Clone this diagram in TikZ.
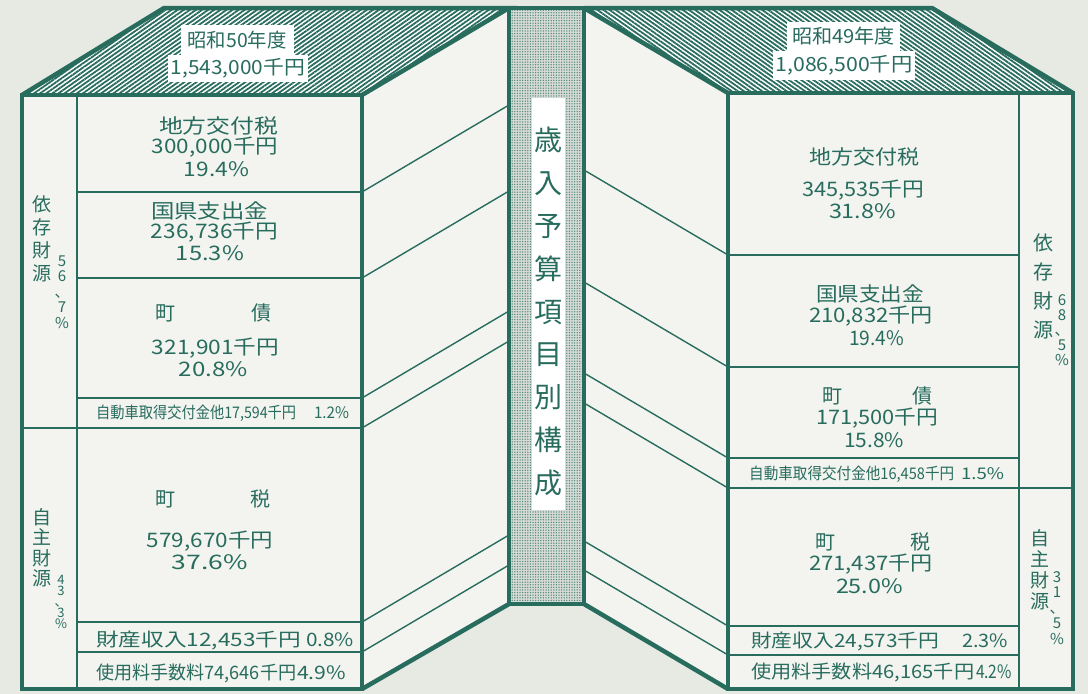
\documentclass[tikz,border=0pt]{standalone}
\usepackage{fontspec}
\usepackage{graphicx}
\usetikzlibrary{patterns.meta}
\newfontfamily\jp{Noto Sans CJK JP}
\definecolor{tl}{RGB}{40,108,94}
\definecolor{bgc}{RGB}{231,233,227}
\definecolor{facec}{RGB}{243,244,240}
\definecolor{pillarc}{RGB}{215,219,214}
\newcommand{\fsz}[2]{\fontsize{#1}{#2}\selectfont}
\newcommand{\fitw}[2]{\resizebox{#1pt}{\height}{#2}}
\begin{document}
\begin{tikzpicture}[x=1pt,y=-1pt]
\tikzset{
  heavy/.style={draw=tl, line width=4.5pt},
  divl/.style={draw=tl, line width=1.7pt},
  sidel/.style={draw=tl, line width=1.4pt},
  tx/.style={text=tl, inner sep=0pt, font=\jp},
  mainf/.style={tx, font=\jp\fsz{20}{21}},
  rowf/.style={tx, font=\jp\fsz{18.5}{19}},
  smallf/.style={tx, font=\jp\fsz{16}{16}},
  wbox/.style={fill=white, inner sep=0pt, text=tl},
  hatchL/.style={pattern={Lines[angle=35,distance=3.5pt,line width=1.8pt]}, pattern color=tl},
  hatchR/.style={pattern={Lines[angle=-35,distance=3.5pt,line width=1.8pt]}, pattern color=tl},
  dotsP/.style={pattern={Dots[distance=2.6pt,radius=0.75pt]}, pattern color=tl!80},
}
% background and bounding box
\fill[bgc] (0,0) rectangle (1088,694);
\useasboundingbox (0,0) rectangle (1088,694);

% faces
\fill[facec] (22,95) rectangle (362,689);
\fill[facec] (362,95) -- (509,8) -- (509,604) -- (362,689) -- cycle;
\fill[facec] (728,93) rectangle (1073,689);
\fill[facec] (584,8) -- (728,93) -- (728,689) -- (584,604) -- cycle;

% top faces (hatched)
\fill[white] (22,95) -- (164,8) -- (509,8) -- (362,95) -- cycle;
\fill[hatchL] (22,95) -- (164,8) -- (509,8) -- (362,95) -- cycle;
\fill[white] (584,8) -- (932,8) -- (1073,93) -- (728,93) -- cycle;
\fill[hatchR] (584,8) -- (932,8) -- (1073,93) -- (728,93) -- cycle;

% pillar
\fill[pillarc] (509,8) rectangle (584,604);
\fill[dotsP] (509,8) rectangle (584,604);

% left box dividers
\foreach \y in {192,278,398,622,652} \draw[divl] (77,\y) -- (362,\y);
\draw[divl] (22,428) -- (362,428);
\draw[divl] (77,95) -- (77,689);
\foreach \y in {192,278,398,428,622,652} \draw[sidel] (362,\y) -- (509,\y-87);

% right box dividers
\foreach \y in {255,367,458,626,655} \draw[divl] (728,\y) -- (1019,\y);
\draw[divl] (728,488) -- (1073,488);
\draw[divl] (1019,93) -- (1019,689);
\foreach \y in {255,367,458,488,626,655} \draw[sidel] (584,\y-85) -- (728,\y);

% heavy outlines
\draw[heavy] (22,95) rectangle (362,689);
\draw[heavy] (22,95) -- (164,8) -- (509,8) -- (362,95);
\draw[heavy] (362,689) -- (509,604);
\draw[heavy] (509,8) rectangle (584,604);
\draw[heavy] (728,93) rectangle (1073,689);
\draw[heavy] (584,8) -- (932,8) -- (1073,93);
\draw[heavy] (584,8) -- (728,93);
\draw[heavy] (584,604) -- (728,689);

% year labels
\node[wbox, minimum width=113pt, minimum height=30pt, font=\jp\fsz{19.5}{20}] (y50a) at (237,40) {\fitw{99}{昭和50年度}};
\node[wbox, minimum width=140pt, minimum height=27pt, font=\jp\fsz{19.5}{20}] (y50b) at (238,68.5) {\fitw{134}{1,543,000千円}};
\node[wbox, minimum width=113pt, minimum height=29pt, font=\jp\fsz{19.5}{20}] (y49a) at (843.5,36.5) {\fitw{103}{昭和49年度}};
\node[wbox, minimum width=142pt, minimum height=29pt, font=\jp\fsz{19.5}{20}] (y49b) at (844,65.5) {\fitw{137}{1,086,500千円}};

% title
\node[wbox, minimum width=33pt, minimum height=412pt] (tbox) at (548.5,304) {};
\node[tx, align=center, font=\jp\fsz{28}{42.9}] (title) at (548.5,311.5) {歳\\入\\予\\算\\項\\目\\別\\構\\成};

% left vertical labels
\node[tx, align=center, font=\jp\fsz{19}{23}] (lA) at (42,238.5) {依\\存\\財\\源};
\node[tx, align=center, font=\jp\fsz{15}{15.5}] (lAp) at (62,292) {5\\6\\、\\7\\\%};
\node[tx, align=center, font=\jp\fsz{19}{20.5}] (lB) at (42,548) {自\\主\\財\\源};
\node[tx, align=center, font=\jp\fsz{13}{11}] (lBp) at (61,601.5) {4\\3\\、\\3\\\%};

% right vertical labels
\node[tx, align=center, font=\jp\fsz{20}{29}] (rA) at (1043,286.5) {依\\存\\財\\源};
\node[tx, align=center, font=\jp\fsz{15}{15}] (rAp) at (1062,330) {6\\8\\、\\5\\\%};
\node[tx, align=center, font=\jp\fsz{19}{21}] (rB) at (1040,570) {自\\主\\財\\源};
\node[tx, align=center, font=\jp\fsz{15}{15.5}] (rBp) at (1057,608) {3\\1\\、\\5\\\%};

% left cells
\node[mainf] (c1a) at (218.5,126) {\fitw{119}{地方交付税}};
\node[mainf] (c1b) at (215,147.5) {\fitw{126}{300,000千円}};
\node[mainf] (c1c) at (216.5,169) {\fitw{65}{19.4\%}};
\node[mainf] (c2a) at (209.5,211) {\fitw{117}{国県支出金}};
\node[mainf] (c2b) at (214.5,232) {\fitw{127}{236,736千円}};
\node[mainf] (c2c) at (210,253) {\fitw{68}{15.3\%}};
\node[mainf] (c3a) at (165,313) {町};
\node[mainf] (c3b) at (261.5,313) {債};
\node[mainf] (c3c) at (215.5,348) {\fitw{127}{321,901千円}};
\node[mainf] (c3d) at (213.5,369.5) {\fitw{69}{20.8\%}};
\node[smallf, anchor=west] (c4a) at (96,413) {\fitw{200}{自動車取得交付金他17,594千円}};
\node[smallf] (c4b) at (331.5,413) {\fitw{35}{1.2\%}};
\node[mainf] (c5a) at (165,499) {町};
\node[mainf] (c5b) at (260,499) {税};
\node[mainf] (c5c) at (210,541) {\fitw{126}{579,670千円}};
\node[mainf] (c5d) at (210,562.5) {\fitw{76}{37.6\%}};
\node[rowf, anchor=west] (c6a) at (96,640) {\fitw{205}{財産収入12,453千円}};
\node[rowf] (c6b) at (330,640) {\fitw{48}{0.8\%}};
\node[rowf, anchor=west] (c7a) at (96,673) {\fitw{200}{使用料手数料74,646千円}};
\node[rowf] (c7b) at (321.5,673) {\fitw{49}{4.9\%}};

% right cells
\node[mainf] (d1a) at (864,157) {\fitw{110}{地方交付税}};
\node[mainf] (d1b) at (863,190) {\fitw{122}{345,535千円}};
\node[mainf] (d1c) at (862.5,211.5) {\fitw{67}{31.8\%}};
\node[mainf] (d2a) at (870,294) {\fitw{108}{国県支出金}};
\node[mainf] (d2b) at (871,316) {\fitw{124}{210,832千円}};
\node[mainf] (d2c) at (876.5,338) {\fitw{55}{19.4\%}};
\node[mainf] (d3a) at (832,396) {町};
\node[mainf] (d3b) at (922.5,396) {債};
\node[mainf] (d3c) at (877,418) {\fitw{122}{171,500千円}};
\node[mainf] (d3d) at (874,440) {\fitw{60}{15.8\%}};
\node[smallf, anchor=west] (d4a) at (749,474) {\fitw{205}{自動車取得交付金他16,458千円}};
\node[smallf] (d4b) at (982.5,474) {\fitw{43}{1.5\%}};
\node[mainf] (d5a) at (825,542) {町};
\node[mainf] (d5b) at (920.5,542) {税};
\node[mainf] (d5c) at (871,564) {\fitw{124}{271,437千円}};
\node[mainf] (d5d) at (869.5,586) {\fitw{67}{25.0\%}};
\node[rowf, anchor=west] (d6a) at (751,641) {\fitw{188}{財産収入24,573千円}};
\node[rowf] (d6b) at (985,641) {\fitw{46}{2.3\%}};
\node[rowf, anchor=west] (d7a) at (751,672) {\fitw{223}{使用料手数料46,165千円}};
\node[rowf] (d7b) at (994,672) {\fitw{36}{4.2\%}};
\end{tikzpicture}
\end{document}
